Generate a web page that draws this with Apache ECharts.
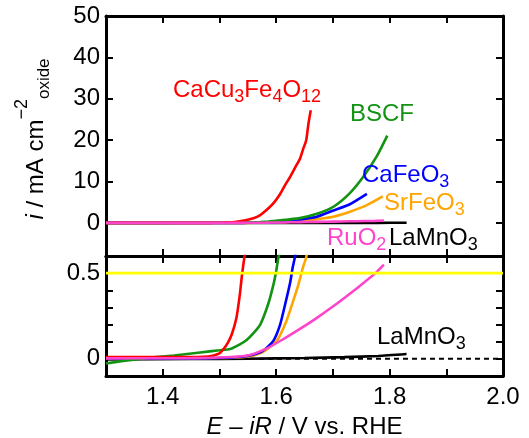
<!DOCTYPE html>
<html><head><meta charset="utf-8">
<script src="https://cdn.jsdelivr.net/npm/echarts@6/dist/echarts.min.js"></script>
<style>html,body{margin:0;padding:0;background:#fff}#c{width:529px;height:438px}</style>
</head><body><div id="c"></div>
<script>
// ---- tick values ----
const xLabelTicks = [1.4, 1.6, 1.8, 2.0];
const xMinorTicks = [1.4, 1.5, 1.6, 1.7, 1.8, 1.9];
const topYTicks = [0, 10, 20, 30, 40, 50];
const botYLabelTicks = [0, 0.5];
const botYMinorTicks = [0, 0.1, 0.2, 0.3, 0.4, 0.5, 0.6];
const xRange = [1.3, 2.0];
const topYRange = [-8, 50];
const botYRange = [-0.1, 0.6];
const yellowLevel = 0.5;
const zeroLevel = 0;

// ---- series data (E - iR / V, i / mA cm-2) ----
const cacuE = [1.30,1.40,1.46,1.48,1.49,1.50,1.507,1.515,1.522,1.530,1.536,1.540,1.544,1.548,1.560,1.572,1.583,1.595,1.607,1.616,1.625,1.636,1.642,1.648,1.653,1.657,1.661];
const cacuI = [0.01,0.01,0.011,0.014,0.02,0.032,0.056,0.095,0.145,0.24,0.376,0.496,0.593,0.69,1.1,1.9,3.1,4.7,7.0,9.2,11.2,14.0,15.5,18.0,20.0,24.0,27.2];
const bscfE = [1.30,1.33,1.36,1.378,1.42,1.466,1.50,1.519,1.536,1.548,1.56,1.572,1.586,1.595,1.600,1.604,1.62,1.642,1.672,1.701,1.730,1.754,1.777,1.796];
const bscfI = [-0.027,-0.012,0.0,0.008,0.02,0.037,0.05,0.058,0.085,0.11,0.15,0.2,0.32,0.43,0.51,0.59,0.8,1.15,2.2,3.9,7.2,11.2,16.0,21.1];
const cafeE = [1.30,1.45,1.50,1.54,1.56,1.577,1.595,1.607,1.616,1.625,1.629,1.633,1.642,1.672,1.701,1.730,1.760];
const cafeI = [0.003,0.003,0.005,0.012,0.025,0.047,0.105,0.2,0.32,0.45,0.53,0.593,0.8,1.5,3.0,4.5,7.0];
const srfeE = [1.30,1.45,1.50,1.54,1.56,1.577,1.601,1.618,1.630,1.639,1.647,1.653,1.672,1.701,1.730,1.760,1.788];
const srfeI = [0.003,0.003,0.005,0.01,0.02,0.04,0.105,0.22,0.337,0.43,0.53,0.593,0.9,1.5,2.7,4.3,6.4];
const ruoE = [1.30,1.45,1.50,1.55,1.583,1.61,1.642,1.67,1.70,1.73,1.755,1.775,1.79];
const ruoI = [0.003,0.004,0.008,0.02,0.06,0.11,0.175,0.235,0.305,0.38,0.445,0.5,0.55];
const lamnE = [1.30,1.45,1.55,1.65,1.72,1.78,1.83];
const lamnI = [-0.003,-0.001,0.001,0.005,0.01,0.017,0.028];

const FONT = "'Liberation Sans', Arial, Helvetica, sans-serif";
const zip = (a, b) => a.map((v, i) => [v, b[i]]);

const curves = [
  {name: 'LaMnO3', e: lamnE, i: lamnI, color: '#000000'},
  {name: 'SrFeO3', e: srfeE, i: srfeI, color: '#ffa500'},
  {name: 'CaFeO3', e: cafeE, i: cafeI, color: '#0000ff'},
  {name: 'BSCF', e: bscfE, i: bscfI, color: '#129412'},
  {name: 'CaCu3Fe4O12', e: cacuE, i: cacuI, color: '#ff0000'},
  {name: 'RuO2', e: ruoE, i: ruoI, color: '#ff44cc'}
];

const tickStyle = {inside: true, length: 7, lineStyle: {color: '#000', width: 2}};
const lineStyleAx = {show: true, lineStyle: {color: '#000', width: 3}};
function xAx(grid, pos, showLabel, extra) {
  return Object.assign({
    type: 'value', gridIndex: grid, position: pos, min: xRange[0], max: xRange[1],
    axisLine: Object.assign({onZero: false}, lineStyleAx),
    axisTick: Object.assign({customValues: xMinorTicks}, tickStyle),
    axisLabel: showLabel ? {customValues: xLabelTicks, formatter: v => v.toFixed(1), fontSize: 24, fontFamily: FONT, color: '#000', margin: 9} : {show: false},
    splitLine: {show: false}
  }, extra || {});
}
function yAx(grid, pos, range, ticks, labels, extra) {
  return Object.assign({
    type: 'value', gridIndex: grid, position: pos, min: range[0], max: range[1],
    axisLine: Object.assign({onZero: false}, lineStyleAx),
    axisTick: Object.assign({customValues: ticks}, tickStyle),
    axisLabel: labels ? {customValues: labels, fontSize: 24, fontFamily: FONT, color: '#000', margin: 6} : {show: false},
    splitLine: {show: false}
  }, extra || {});
}

const series = [];
series.push({type: 'line', xAxisIndex: 2, yAxisIndex: 2, data: [[xRange[0], zeroLevel], [xRange[1], zeroLevel]],
  symbol: 'none', lineStyle: {color: '#000', width: 2, type: [5, 4]}, z: 1, silent: true});
curves.forEach(c => {
  series.push({type: 'line', name: c.name, xAxisIndex: 0, yAxisIndex: 0, data: zip(c.e, c.i), symbol: 'none',
    smooth: 0.2, lineStyle: {color: c.color, width: 2.6}, z: 2});
  series.push({type: 'line', name: c.name, xAxisIndex: 2, yAxisIndex: 2, data: zip(c.e, c.i), symbol: 'none',
    smooth: 0.2, lineStyle: {color: c.color, width: 2.6}, z: 2});
});
series.push({type: 'line', xAxisIndex: 2, yAxisIndex: 2, data: [[xRange[0], yellowLevel], [xRange[1], yellowLevel]],
  symbol: 'none', lineStyle: {color: '#ffff00', width: 2.6}, z: 3, silent: true});

function richLabel(text, x, cy, color) {
  return {
    type: 'text', x: x, y: cy, silent: true, z: 10,
    style: {
      text: text, align: 'left', verticalAlign: 'middle',
      rich: {
        m: {fontSize: 24, fontFamily: FONT, fill: color, lineHeight: 32},
        s: {fontSize: 18, fontFamily: FONT, fill: color, verticalAlign: 'bottom', height: 18}
      }
    }
  };
}

const option = {
  animation: false,
  backgroundColor: '#fff',
  grid: [
    {left: 106, right: 26, top: 16, height: 240, outerBoundsMode: 'none', containLabel: false},
    {left: 106, right: 26, top: 256, height: 120, outerBoundsMode: 'none', containLabel: false}
  ],
  xAxis: [
    xAx(0, 'bottom', false),
    xAx(0, 'top', false),
    xAx(1, 'bottom', true, {
      name: '{i|E} – {i|iR} / V vs. RHE', nameLocation: 'middle', nameGap: 39, nameMoveOverlap: false,
      nameTextStyle: {fontSize: 24, fontFamily: FONT, color: '#000', verticalAlign: 'top',
        rich: {i: {fontStyle: 'italic', fontSize: 24, fontFamily: FONT, color: '#000'}}}
    }),
    xAx(1, 'top', false)
  ],
  yAxis: [
    yAx(0, 'left', topYRange, topYTicks, topYTicks),
    yAx(0, 'right', topYRange, topYTicks, null),
    yAx(1, 'left', botYRange, botYMinorTicks, botYLabelTicks),
    yAx(1, 'right', botYRange, botYMinorTicks, null)
  ],
  series: series,
  graphic: [
    richLabel('{m|CaCu}{s|3}{m|Fe}{s|4}{m|O}{s|12}', 173, 90, '#ff0000'),
    richLabel('{m|BSCF}', 350, 114.5, '#129412'),
    richLabel('{m|CaFeO}{s|3}', 362, 175, '#0000ff'),
    richLabel('{m|SrFeO}{s|3}', 384, 203.5, '#ffa500'),
    richLabel('{m|RuO}{s|2}', 327, 238.5, '#ff44cc'),
    richLabel('{m|LaMnO}{s|3}', 389, 238.5, '#000000'),
    richLabel('{m|LaMnO}{s|3}', 377, 337.5, '#000000'),
    {
      type: 'text', x: 36, y: 139, rotation: Math.PI / 2, silent: true, z: 10,
      style: {
        text: '{m|i}{n| / mA cm}{p|−2}{b|oxide}', align: 'center', verticalAlign: 'middle',
        rich: {
          m: {fontSize: 24, fontFamily: FONT, fontStyle: 'italic', fill: '#000', lineHeight: 46},
          n: {fontSize: 24, fontFamily: FONT, fill: '#000', lineHeight: 46},
          p: {fontSize: 18, fontFamily: FONT, fill: '#000', verticalAlign: 'top', height: 18},
          b: {fontSize: 17, fontFamily: FONT, fill: '#000', verticalAlign: 'bottom', height: 30}
        }
      }
    }
  ]
};
const chart = echarts.init(document.getElementById('c'), null, {renderer: 'canvas'});
chart.setOption(option);
</script>
</body></html>
